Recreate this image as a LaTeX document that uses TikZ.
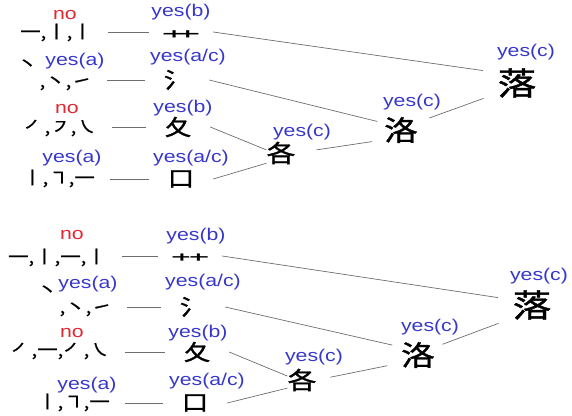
\documentclass[tikz,border=0pt]{standalone}
\usepackage{fontspec}
\setmainfont[FakeStretch=1.25]{Liberation Sans}
\newfontfamily\cjk[FakeStretch=1.2]{Noto Sans CJK SC}
\newfontfamily\cjkb[FakeStretch=1.2,FakeBold=1.2]{Noto Sans CJK SC}
\newfontfamily\grasssc[FakeStretch=2.0]{Noto Sans CJK SC}
\newfontfamily\grasstc[FakeStretch=2.0]{Noto Sans CJK TC}
\definecolor{lblue}{RGB}{55,55,205}
\definecolor{lred}{RGB}{225,40,50}
\definecolor{lgray}{RGB}{110,110,110}
\tikzset{
  lab/.style={font=\fontsize{17}{20}\selectfont, text=lblue, inner sep=0pt},
  nolab/.style={font=\fontsize{17}{20}\selectfont, text=lred, inner sep=0pt},
  stk/.style={font=\cjkb\fontsize{17}{20}\selectfont, inner sep=0pt, anchor=base east},
  comp/.style={font=\cjkb\fontsize{22}{24}\selectfont, inner sep=0pt, minimum width=64pt},
  grass/.style={inner sep=0pt, minimum width=64pt, anchor=base},
  bigA/.style={font=\cjkb\fontsize{24}{26}\selectfont, inner sep=0pt},
  bigB/.style={font=\cjkb\fontsize{28}{30}\selectfont, inner sep=0pt},
  bigC/.style={font=\cjkb\fontsize{32}{34}\selectfont, inner sep=0pt},
  conn/.style={draw=lgray, line width=0.7pt}
}
\begin{document}
\begin{tikzpicture}[x=1pt,y=-1pt]
\useasboundingbox (0,0) rectangle (572,415);
% ---------- top diagram ----------
\node[stk] (ts1) at (93,38) {一,丨,丨};
\node[nolab] (tn1) at (65,15) {no};
\node[grass, font=\grasssc\fontsize{20}{22}\selectfont] (tc1) at (181,46) {艹};
\node[lab] (tl1) at (181,12) {yes(b)};
\node[stk] (ts2) at (92,87) {\raisebox{17pt}{丶}\hspace{2pt},丶,㇀};
\node[lab] (ta2) at (75,61) {yes(a)};
\node[comp] (tc2) at (177,80) {氵};
\node[lab] (tl2) at (188,57) {yes(a/c)};
\node[stk] (ts3) at (97,133) {㇒,㇇,㇏};
\node[nolab] (tn3) at (67,109) {no};
\node[comp] (tc3) at (178,127) {夂};
\node[lab] (tl3) at (183,108) {yes(b)};
\node[stk] (ts4) at (95,184) {丨,㇕,一};
\node[lab] (ta4) at (72,158) {yes(a)};
\node[comp] (tc4) at (181,179) {口};
\node[lab] (tl4) at (191,158) {yes(a/c)};
\node[bigA] (tg) at (281,153) {各};
\node[lab] (tgl) at (302,132) {yes(c)};
\node[bigB] (tm) at (401,130) {洛};
\node[lab] (tml) at (412,102) {yes(c)};
\node[bigC] (tt) at (517,83) {落};
\node[lab] (ttl) at (526,52) {yes(c)};
\draw[conn, shorten <=15pt] (ts1.east |- 0,32) -- (tc1.west |- 0,32);
\draw[conn, shorten <=15pt] (ts2.east |- tc2) -- (tc2.west);
\draw[conn, shorten <=15pt] (ts3.east |- tc3) -- (tc3.west);
\draw[conn, shorten <=15pt] (ts4.east |- tc4) -- (tc4.west);
\draw[conn, shorten >=15pt] (tc1.east |- 0,32) -- (tt.152);
\draw[conn, shorten >=7pt] (tc2.east) -- (tm.158);
\draw[conn] (tc3.east) -- (tg.168);
\draw[conn] (tc4.east) -- (tg.215);
\draw[conn, shorten <=21pt, shorten >=12pt] (tg.east) -- (tm.210);
\draw[conn, shorten <=12pt, shorten >=15pt] (tm.25) -- (tt.208);
% ---------- bottom diagram ----------
\node[stk] (bs1) at (107,263) {一,丨,一,丨};
\node[nolab] (bn1) at (72,235) {no};
\node[grass, font=\grasstc\fontsize{20}{22}\selectfont] (bc1) at (190,270) {艹};
\node[lab] (bl1) at (196,236) {yes(b)};
\node[stk] (bs2) at (112,313) {\raisebox{17pt}{丶}\hspace{2pt},丶,㇀};
\node[lab] (ba2) at (88,284) {yes(a)};
\node[comp] (bc2) at (193,307) {氵};
\node[lab] (bl2) at (203,282) {yes(a/c)};
\node[stk] (bs3) at (110,356) {㇒,一,㇒,㇏};
\node[nolab] (bn3) at (72,333) {no};
\node[comp] (bc3) at (197,352) {夂};
\node[lab] (bl3) at (198,333) {yes(b)};
\node[stk] (bs4) at (110,408) {丨,㇕,一};
\node[lab] (ba4) at (87,385) {yes(a)};
\node[comp] (bc4) at (195,403) {口};
\node[lab] (bl4) at (207,381) {yes(a/c)};
\node[bigA] (bg) at (302,380) {各};
\node[lab] (bgl) at (314,357) {yes(c)};
\node[bigB] (bm) at (418,355) {洛};
\node[lab] (bml) at (430,327) {yes(c)};
\node[bigC] (bt) at (532,305) {落};
\node[lab] (btl) at (539,276) {yes(c)};
\draw[conn, shorten <=15pt] (bs1.east |- 0,256) -- (bc1.west |- 0,256);
\draw[conn, shorten <=15pt] (bs2.east |- bc2) -- (bc2.west);
\draw[conn, shorten <=15pt] (bs3.east |- bc3) -- (bc3.west);
\draw[conn, shorten <=15pt] (bs4.east |- bc4) -- (bc4.west);
\draw[conn, shorten >=15pt] (bc1.east |- 0,256) -- (bt.165);
\draw[conn, shorten >=9pt] (bc2.east) -- (bm.155);
\draw[conn] (bc3.east) -- (bg.165);
\draw[conn] (bc4.east) -- (bg.209);
\draw[conn, shorten <=14pt, shorten >=14pt] (bg.east) -- (bm.205);
\draw[conn, shorten <=8pt, shorten >=15pt] (bm.25) -- (bt.214);
\end{tikzpicture}
\end{document}
